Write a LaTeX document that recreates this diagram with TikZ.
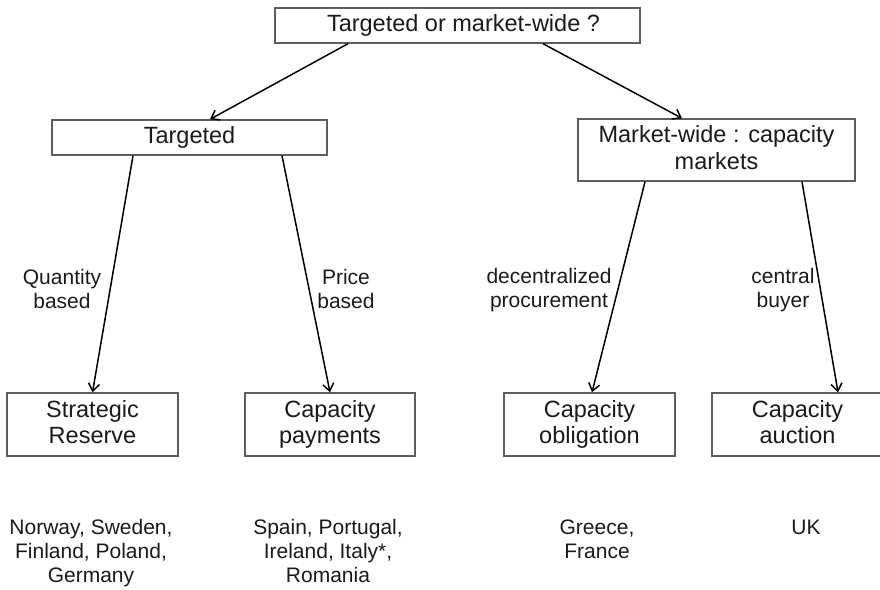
\documentclass[tikz,border=0pt]{standalone}
\usepackage{fontspec}
\setmainfont{Liberation Sans}
\usetikzlibrary{arrows.meta}
\definecolor{boxgray}{HTML}{5E5E5E}
\definecolor{txt}{HTML}{1A1A1A}
\newcommand{\lastl}[1]{#1\vphantom{gy}}
\begin{document}
\begin{tikzpicture}[x=1pt,y=-1pt,
  box/.style={draw=boxgray,line width=1.4pt,align=center,inner sep=0pt,
    text=txt,font=\fontsize{23.5}{26.5}\selectfont},
  lbl/.style={align=center,inner sep=0pt,text=txt,font=\fontsize{21}{24}\selectfont},
  conn/.style={draw=black,line width=1.5pt,-{Straight Barb[length=7.5pt,width=11pt,line width=1.5pt]}}]
\useasboundingbox (0,0) rectangle (880,589);
\node[box,minimum width=365pt,minimum height=35pt] (top) at (457.5,25.5) {\hspace*{12pt}\lastl{Targeted or market-wide ?}};
\node[box,minimum width=275pt,minimum height=35pt] (targ) at (189.5,137.5) {\lastl{Targeted}};
\node[box,minimum width=277pt,minimum height=62pt] (mw) at (716.5,150) {Market-wide : capacity\\\lastl{markets}};
\node[box,minimum width=171pt,minimum height=63pt] (sr) at (92.5,424.5) {Strategic\\\lastl{Reserve}};
\node[box,minimum width=170pt,minimum height=63pt] (cp) at (330,424.5) {Capacity\\\lastl{payments}};
\node[box,minimum width=171pt,minimum height=63pt] (co) at (589.5,424.5) {Capacity\\\lastl{obligation}};
\node[box,minimum width=171pt,minimum height=63pt] (ca) at (797.5,424.5) {Capacity\\\lastl{auction}};

\draw[conn] ([xshift=-109.5pt]top.south) -- ([xshift=20.5pt]targ.north);
\draw[conn] ([xshift=85.5pt]top.south) -- ([xshift=-34.5pt]mw.north);
\draw[conn] ([xshift=-56.5pt]targ.south) -- (sr.north);
\draw[conn] ([xshift=92.5pt]targ.south) -- (cp.north);
\draw[conn] ([xshift=-71.5pt]mw.south) -- ([xshift=2.5pt]co.north);
\draw[conn] ([xshift=85.5pt]mw.south) -- ([xshift=40.5pt]ca.north);

\node[lbl] (l1) at (62,291) {Quantity\\\lastl{based}};
\node[lbl] (l2) at (346,291) {Price\\\lastl{based}};
\node[lbl] (l3) at (549,290) {decentralized\\\lastl{procurement}};
\node[lbl] (l4) at (783,290) {central\\\lastl{buyer}};

\node[lbl] (c1) at (91,553) {Norway, Sweden,\\Finland, Poland,\\\lastl{Germany}};
\node[lbl] (c2) at (328,553) {Spain, Portugal,\\Ireland, Italy*,\\\lastl{Romania}};
\node[lbl] (c3) at (597,541.5) {Greece,\\\lastl{France}};
\node[lbl] (c4) at (806,529.5) {\lastl{UK}};
\end{tikzpicture}
\end{document}
